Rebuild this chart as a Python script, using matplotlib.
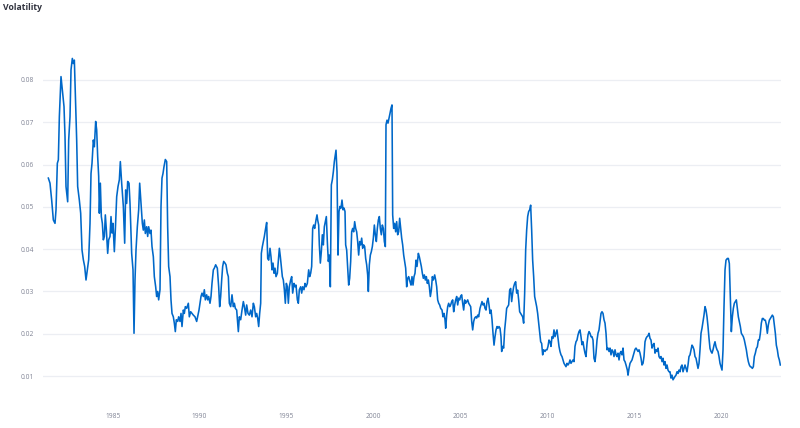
import matplotlib
matplotlib.use("Agg")
import matplotlib.pyplot as plt

title = "Volatility"

years = [
    1981.297, 1981.392, 1981.488, 1981.584, 1981.680, 1981.738, 1981.814, 1981.872, 1981.930, 1982.025,
    1982.102, 1982.198, 1982.256, 1982.313, 1982.409, 1982.467, 1982.543, 1982.601, 1982.677, 1982.735,
    1982.793, 1982.869, 1982.927, 1982.984, 1983.080, 1983.157, 1983.234, 1983.310, 1983.387, 1983.464,
    1983.541, 1983.617, 1983.694, 1983.752, 1983.809, 1983.886, 1983.943, 1984.020, 1984.078, 1984.135,
    1984.193, 1984.231, 1984.289, 1984.346, 1984.404, 1984.461, 1984.519, 1984.576, 1984.634, 1984.711,
    1984.768, 1984.845, 1984.902, 1984.960, 1985.017, 1985.094, 1985.152, 1985.229, 1985.305, 1985.382,
    1985.439, 1985.516, 1985.612, 1985.689, 1985.746, 1985.804, 1985.861, 1985.938, 1985.996, 1986.091,
    1986.168, 1986.226, 1986.283, 1986.341, 1986.417, 1986.494, 1986.552,
    1986.628, 1986.705, 1986.762, 1986.820, 1986.877, 1986.954, 1987.012, 1987.069, 1987.146, 1987.203,
    1987.261, 1987.338, 1987.395, 1987.472, 1987.529, 1987.587, 1987.644, 1987.721, 1987.779, 1987.836,
    1987.894, 1987.951, 1988.028, 1988.105, 1988.162, 1988.220, 1988.297, 1988.354, 1988.412, 1988.488,
    1988.546, 1988.603, 1988.661, 1988.738, 1988.795, 1988.872, 1988.930, 1988.987, 1989.064, 1989.121,
    1989.179, 1989.256, 1989.351, 1989.409, 1989.486, 1989.562, 1989.639, 1989.735, 1989.831, 1989.888,
    1989.965, 1990.023, 1990.080, 1990.138, 1990.215, 1990.272, 1990.330, 1990.406, 1990.464, 1990.521,
    1990.598, 1990.656, 1990.713, 1990.790, 1990.848, 1990.924, 1991.020, 1991.097, 1991.154, 1991.212,
    1991.270, 1991.327, 1991.385, 1991.461, 1991.519, 1991.596, 1991.653, 1991.711,
    1991.788, 1991.864, 1991.941, 1991.999, 1992.056, 1992.133, 1992.229, 1992.286, 1992.363, 1992.440,
    1992.517, 1992.574, 1992.651, 1992.708, 1992.785, 1992.862, 1992.939, 1993.015, 1993.092, 1993.150,
    1993.226, 1993.284, 1993.341, 1993.399, 1993.456, 1993.514, 1993.552, 1993.610, 1993.667, 1993.725,
    1993.782, 1993.859, 1993.917, 1993.974, 1994.051, 1994.108, 1994.166, 1994.224, 1994.281, 1994.339,
    1994.396, 1994.473, 1994.531, 1994.588, 1994.646, 1994.703, 1994.761, 1994.818, 1994.876, 1994.933,
    1994.991, 1995.048, 1995.106, 1995.163, 1995.240, 1995.298, 1995.355, 1995.432, 1995.490, 1995.547,
    1995.624, 1995.681, 1995.739, 1995.816, 1995.873, 1995.931, 1996.007, 1996.065, 1996.122, 1996.199,
    1996.276, 1996.333, 1996.391, 1996.448, 1996.506, 1996.564, 1996.621, 1996.698, 1996.755,
    1996.793, 1996.851, 1996.889, 1996.947, 1997.004, 1997.062, 1997.119, 1997.177, 1997.234, 1997.292,
    1997.349, 1997.407, 1997.464, 1997.522, 1997.580, 1997.637, 1997.695, 1997.752, 1997.810, 1997.848,
    1997.906, 1997.963, 1998.021, 1998.078, 1998.136, 1998.193, 1998.251, 1998.308, 1998.366, 1998.404,
    1998.462, 1998.519, 1998.577, 1998.634, 1998.692, 1998.750, 1998.807, 1998.865, 1998.922, 1998.980,
    1999.037, 1999.095, 1999.152, 1999.210, 1999.267, 1999.325, 1999.382, 1999.440, 1999.498, 1999.555,
    1999.613, 1999.670, 1999.709, 1999.766, 1999.824, 1999.881, 1999.939, 1999.996, 2000.054, 2000.111,
    2000.169, 2000.226, 2000.284, 2000.341, 2000.399, 2000.456, 2000.514, 2000.572, 2000.629, 2000.687,
    2000.725, 2000.783, 2000.840, 2000.898, 2000.955, 2001.013, 2001.070, 2001.109, 2001.166, 2001.224,
    2001.281, 2001.339, 2001.396, 2001.454, 2001.511, 2001.569, 2001.627, 2001.684, 2001.742, 2001.799,
    2001.857, 2001.914, 2001.972, 2002.029, 2002.106,
    2002.164, 2002.221, 2002.279, 2002.337, 2002.394, 2002.452, 2002.509, 2002.586, 2002.643, 2002.701,
    2002.758, 2002.816, 2002.874, 2002.931, 2002.989, 2003.046, 2003.104, 2003.161, 2003.219, 2003.276,
    2003.334, 2003.391, 2003.449, 2003.526, 2003.583, 2003.641, 2003.698, 2003.756, 2003.813, 2003.871,
    2003.948, 2004.005, 2004.063, 2004.120, 2004.159, 2004.216, 2004.274, 2004.331, 2004.389, 2004.446,
    2004.504, 2004.561, 2004.619, 2004.677, 2004.734, 2004.792, 2004.849, 2004.907, 2004.964, 2005.022,
    2005.079, 2005.137, 2005.194, 2005.252, 2005.309, 2005.367, 2005.425, 2005.482, 2005.540, 2005.597,
    2005.655, 2005.712, 2005.770, 2005.827, 2005.885, 2005.942, 2006.000, 2006.057, 2006.134, 2006.192,
    2006.249, 2006.307, 2006.364, 2006.422, 2006.479, 2006.537, 2006.595, 2006.652, 2006.710, 2006.767,
    2006.825, 2006.882, 2006.940, 2006.997, 2007.055, 2007.112, 2007.170, 2007.227, 2007.285,
    2007.341, 2007.380, 2007.437, 2007.495, 2007.552, 2007.610, 2007.667, 2007.725, 2007.782, 2007.840,
    2007.897, 2007.955, 2008.013, 2008.070, 2008.128, 2008.185, 2008.243, 2008.300, 2008.358, 2008.415,
    2008.473, 2008.530, 2008.588, 2008.645, 2008.703, 2008.761, 2008.818, 2008.876, 2008.933, 2008.991,
    2009.048, 2009.106, 2009.163, 2009.221, 2009.278, 2009.336, 2009.394, 2009.451, 2009.509, 2009.566,
    2009.624, 2009.681, 2009.739, 2009.796, 2009.873, 2009.931, 2009.988, 2010.046, 2010.103, 2010.161,
    2010.218, 2010.276, 2010.333, 2010.391, 2010.448, 2010.506, 2010.564, 2010.621, 2010.679, 2010.736,
    2010.794, 2010.851, 2010.909, 2010.966, 2011.024, 2011.081, 2011.139, 2011.196, 2011.254, 2011.312,
    2011.369, 2011.427, 2011.484, 2011.542, 2011.599, 2011.657, 2011.714, 2011.772, 2011.829, 2011.887,
    2011.944, 2012.002, 2012.059, 2012.117, 2012.175, 2012.232, 2012.290, 2012.347, 2012.405, 2012.462,
    2012.520, 2012.577, 2012.635, 2012.692, 2012.750,
    2012.808, 2012.866, 2012.923, 2012.981, 2013.038, 2013.096, 2013.153, 2013.211, 2013.269, 2013.326,
    2013.384, 2013.441, 2013.499, 2013.556, 2013.614, 2013.671, 2013.729, 2013.786, 2013.844, 2013.902,
    2013.959, 2014.017, 2014.074, 2014.132, 2014.189, 2014.247, 2014.304, 2014.362, 2014.419, 2014.477,
    2014.535, 2014.611, 2014.650, 2014.707, 2014.765, 2014.822, 2014.880, 2014.937, 2014.995, 2015.052,
    2015.110, 2015.167, 2015.225, 2015.282, 2015.340, 2015.398, 2015.455, 2015.513, 2015.570, 2015.628,
    2015.685, 2015.743, 2015.800, 2015.858, 2015.915, 2015.973, 2016.030, 2016.088, 2016.146, 2016.203,
    2016.261, 2016.318, 2016.376, 2016.433, 2016.491, 2016.548, 2016.606, 2016.663, 2016.721, 2016.779,
    2016.836, 2016.894, 2016.951, 2017.009, 2017.066, 2017.124, 2017.181, 2017.239, 2017.296, 2017.354,
    2017.411, 2017.469, 2017.527, 2017.584, 2017.642, 2017.699, 2017.757, 2017.814, 2017.872, 2017.929,
    2017.987, 2018.044, 2018.102, 2018.159, 2018.217,
    2018.274, 2018.332, 2018.389, 2018.447, 2018.504, 2018.562, 2018.620, 2018.677, 2018.735, 2018.792,
    2018.850, 2018.907, 2018.965, 2019.022, 2019.080, 2019.137, 2019.195, 2019.252, 2019.310, 2019.368,
    2019.425, 2019.483, 2019.540, 2019.598, 2019.655, 2019.713, 2019.770, 2019.828, 2019.885, 2019.943,
    2020.000, 2020.058, 2020.116, 2020.173, 2020.231, 2020.288, 2020.365, 2020.422, 2020.480, 2020.537,
    2020.595, 2020.653, 2020.710, 2020.768, 2020.825, 2020.883, 2020.940, 2020.998, 2021.055, 2021.113,
    2021.171, 2021.228, 2021.286, 2021.343, 2021.401, 2021.458, 2021.516, 2021.573, 2021.631, 2021.688,
    2021.746, 2021.803, 2021.861, 2021.918, 2021.976, 2022.034, 2022.091, 2022.149, 2022.206, 2022.264,
    2022.321, 2022.379, 2022.436, 2022.494, 2022.551, 2022.609, 2022.666, 2022.724, 2022.782, 2022.839,
    2022.897, 2022.954, 2023.012, 2023.069, 2023.127, 2023.184, 2023.242, 2023.299, 2023.357, 2023.414,
]

volatility = [
    0.0568, 0.0556, 0.0516, 0.0469, 0.0461, 0.0493, 0.0603, 0.0611, 0.0713, 0.0808,
    0.0776, 0.0737, 0.0666, 0.0548, 0.0512, 0.0658, 0.0713, 0.0824, 0.0851, 0.0839,
    0.0847, 0.0737, 0.0658, 0.0548, 0.0516, 0.0485, 0.0398, 0.0375, 0.0359, 0.0327,
    0.0351, 0.0375, 0.0461, 0.0579, 0.0603, 0.0658, 0.0642, 0.0702, 0.0682, 0.0619,
    0.0572, 0.0485, 0.0556, 0.0477, 0.0461, 0.0422, 0.0430, 0.0481, 0.0446, 0.0390,
    0.0422, 0.0430, 0.0477, 0.0438, 0.0461, 0.0394, 0.0446, 0.0524, 0.0548, 0.0564,
    0.0607, 0.0556, 0.0501, 0.0414, 0.0540, 0.0508, 0.0560, 0.0556, 0.0508, 0.0390,
    0.0351, 0.0201, 0.0327, 0.0398, 0.0453, 0.0493, 0.0556,
    0.0508, 0.0461, 0.0445, 0.0469, 0.0437, 0.0453, 0.0430, 0.0453, 0.0437, 0.0445,
    0.0406, 0.0382, 0.0335, 0.0311, 0.0288, 0.0300, 0.0280, 0.0304, 0.0501, 0.0568,
    0.0579, 0.0595, 0.0612, 0.0607, 0.0453, 0.0359, 0.0335, 0.0280, 0.0248, 0.0240,
    0.0225, 0.0205, 0.0233, 0.0229, 0.0240, 0.0229, 0.0248, 0.0217, 0.0256, 0.0248,
    0.0264, 0.0260, 0.0272, 0.0240, 0.0252, 0.0248, 0.0244, 0.0240, 0.0229, 0.0240,
    0.0256, 0.0272, 0.0288, 0.0296, 0.0288, 0.0304, 0.0280, 0.0292, 0.0280, 0.0288,
    0.0272, 0.0288, 0.0319, 0.0351, 0.0355, 0.0363, 0.0355, 0.0311, 0.0264, 0.0288,
    0.0327, 0.0359, 0.0371, 0.0367, 0.0363, 0.0343, 0.0335, 0.0272,
    0.0264, 0.0292, 0.0264, 0.0272, 0.0260, 0.0256, 0.0205, 0.0240, 0.0233, 0.0256,
    0.0276, 0.0264, 0.0244, 0.0268, 0.0248, 0.0244, 0.0256, 0.0240, 0.0272, 0.0264,
    0.0240, 0.0248, 0.0237, 0.0217, 0.0248, 0.0272, 0.0390, 0.0406, 0.0418, 0.0430,
    0.0445, 0.0463, 0.0378, 0.0374, 0.0402, 0.0382, 0.0351, 0.0367, 0.0343, 0.0355,
    0.0335, 0.0343, 0.0374, 0.0402, 0.0382, 0.0359, 0.0335, 0.0327, 0.0304, 0.0272,
    0.0319, 0.0311, 0.0272, 0.0311, 0.0327, 0.0335, 0.0296, 0.0319, 0.0311, 0.0315,
    0.0280, 0.0272, 0.0304, 0.0311, 0.0296, 0.0311, 0.0304, 0.0319, 0.0311, 0.0319,
    0.0351, 0.0335, 0.0343, 0.0359, 0.0449, 0.0457, 0.0449, 0.0469, 0.0481,
    0.0469, 0.0457, 0.0410, 0.0367, 0.0394, 0.0434, 0.0410, 0.0453, 0.0465, 0.0477,
    0.0418, 0.0371, 0.0386, 0.0311, 0.0552, 0.0564, 0.0583, 0.0607, 0.0623, 0.0634,
    0.0583, 0.0386, 0.0489, 0.0501, 0.0497, 0.0516, 0.0493, 0.0497, 0.0489, 0.0410,
    0.0398, 0.0355, 0.0315, 0.0331, 0.0371, 0.0441, 0.0449, 0.0441, 0.0465, 0.0449,
    0.0441, 0.0418, 0.0386, 0.0418, 0.0410, 0.0426, 0.0402, 0.0410, 0.0406, 0.0378,
    0.0363, 0.0339, 0.0300, 0.0363, 0.0386, 0.0394, 0.0406, 0.0426, 0.0457, 0.0434,
    0.0418, 0.0449, 0.0469, 0.0477, 0.0449, 0.0434, 0.0457, 0.0449, 0.0418, 0.0406,
    0.0694, 0.0705, 0.0698, 0.0709, 0.0721, 0.0733, 0.0741, 0.0481, 0.0449, 0.0461,
    0.0441, 0.0465, 0.0434, 0.0441, 0.0473, 0.0449, 0.0426, 0.0410, 0.0386, 0.0371,
    0.0355, 0.0311, 0.0331, 0.0335, 0.0323,
    0.0315, 0.0335, 0.0315, 0.0335, 0.0343, 0.0374, 0.0359, 0.0390, 0.0382, 0.0370,
    0.0359, 0.0343, 0.0331, 0.0339, 0.0327, 0.0335, 0.0319, 0.0327, 0.0311, 0.0288,
    0.0303, 0.0335, 0.0327, 0.0339, 0.0327, 0.0311, 0.0280, 0.0272, 0.0268, 0.0260,
    0.0256, 0.0240, 0.0248, 0.0233, 0.0213, 0.0244, 0.0264, 0.0272, 0.0264, 0.0268,
    0.0276, 0.0280, 0.0252, 0.0268, 0.0280, 0.0288, 0.0268, 0.0284, 0.0280, 0.0289,
    0.0292, 0.0272, 0.0256, 0.0280, 0.0272, 0.0276, 0.0280, 0.0272, 0.0268, 0.0264,
    0.0229, 0.0209, 0.0229, 0.0237, 0.0240, 0.0237, 0.0244, 0.0240, 0.0260, 0.0268,
    0.0276, 0.0268, 0.0272, 0.0260, 0.0256, 0.0276, 0.0284, 0.0268, 0.0248, 0.0256,
    0.0233, 0.0201, 0.0173, 0.0193, 0.0209, 0.0217, 0.0213, 0.0217, 0.0213,
    0.0193, 0.0158, 0.0170, 0.0166, 0.0209, 0.0233, 0.0260, 0.0264, 0.0268, 0.0303,
    0.0307, 0.0276, 0.0296, 0.0311, 0.0319, 0.0323, 0.0296, 0.0303, 0.0280, 0.0252,
    0.0248, 0.0244, 0.0240, 0.0225, 0.0296, 0.0398, 0.0445, 0.0477, 0.0489, 0.0493,
    0.0504, 0.0445, 0.0374, 0.0335, 0.0288, 0.0276, 0.0264, 0.0248, 0.0225, 0.0201,
    0.0181, 0.0177, 0.0150, 0.0162, 0.0158, 0.0162, 0.0162, 0.0170, 0.0185, 0.0181,
    0.0170, 0.0193, 0.0189, 0.0209, 0.0193, 0.0201, 0.0209, 0.0189, 0.0170, 0.0158,
    0.0150, 0.0146, 0.0138, 0.0130, 0.0126, 0.0122, 0.0130, 0.0126, 0.0130, 0.0138,
    0.0130, 0.0134, 0.0138, 0.0134, 0.0170, 0.0181, 0.0185, 0.0197, 0.0205, 0.0209,
    0.0193, 0.0174, 0.0181, 0.0166, 0.0154, 0.0146, 0.0177, 0.0197, 0.0205, 0.0201,
    0.0193, 0.0193, 0.0185, 0.0142, 0.0134,
    0.0154, 0.0185, 0.0201, 0.0209, 0.0229, 0.0248, 0.0252, 0.0248, 0.0233, 0.0225,
    0.0201, 0.0162, 0.0166, 0.0158, 0.0166, 0.0150, 0.0162, 0.0158, 0.0146, 0.0162,
    0.0150, 0.0146, 0.0154, 0.0138, 0.0154, 0.0158, 0.0150, 0.0166, 0.0138, 0.0134,
    0.0126, 0.0114, 0.0102, 0.0118, 0.0130, 0.0134, 0.0138, 0.0146, 0.0154, 0.0163,
    0.0166, 0.0162, 0.0158, 0.0162, 0.0154, 0.0142, 0.0126, 0.0130, 0.0146, 0.0181,
    0.0189, 0.0193, 0.0195, 0.0201, 0.0189, 0.0185, 0.0166, 0.0173, 0.0177, 0.0154,
    0.0162, 0.0158, 0.0166, 0.0146, 0.0142, 0.0146, 0.0134, 0.0142, 0.0126, 0.0134,
    0.0118, 0.0126, 0.0114, 0.0110, 0.0110, 0.0095, 0.0102, 0.0091, 0.0095, 0.0099,
    0.0102, 0.0110, 0.0106, 0.0114, 0.0110, 0.0122, 0.0126, 0.0110, 0.0118, 0.0126,
    0.0118, 0.0110, 0.0126, 0.0146, 0.0150,
    0.0162, 0.0173, 0.0169, 0.0162, 0.0146, 0.0142, 0.0130, 0.0118, 0.0130, 0.0162,
    0.0201, 0.0213, 0.0229, 0.0244, 0.0264, 0.0256, 0.0240, 0.0217, 0.0189, 0.0165,
    0.0158, 0.0154, 0.0162, 0.0173, 0.0181, 0.0169, 0.0162, 0.0158, 0.0146, 0.0130,
    0.0122, 0.0114, 0.0162, 0.0264, 0.0351, 0.0374, 0.0378, 0.0378, 0.0366, 0.0288,
    0.0205, 0.0240, 0.0260, 0.0272, 0.0276, 0.0280, 0.0260, 0.0240, 0.0229, 0.0217,
    0.0201, 0.0197, 0.0193, 0.0185, 0.0173, 0.0162, 0.0146, 0.0134, 0.0126, 0.0122,
    0.0121, 0.0118, 0.0122, 0.0146, 0.0154, 0.0165, 0.0169, 0.0185, 0.0185, 0.0201,
    0.0225, 0.0236, 0.0236, 0.0232, 0.0232, 0.0221, 0.0201, 0.0221, 0.0232, 0.0236,
    0.0240, 0.0244, 0.0240, 0.0221, 0.0201, 0.0173, 0.0162, 0.0146, 0.0138, 0.0126,
]

y_ticks = [0.01, 0.02, 0.03, 0.04, 0.05, 0.06, 0.07, 0.08]
y_tick_labels = ["0.01", "0.02", "0.03", "0.04", "0.05", "0.06", "0.07", "0.08"]
x_ticks = [1985, 1990, 1995, 2000, 2005, 2010, 2015, 2020]
x_tick_labels = ["1985", "1990", "1995", "2000", "2005", "2010", "2015", "2020"]

W, H = 800, 428
fig = plt.figure(figsize=(W / 100, H / 100), dpi=100)
fig.patch.set_facecolor("white")

left_px, right_px, top_px, bottom_px = 42.7, 780.7, 30, 400
ax = fig.add_axes([left_px / W, 1 - bottom_px / H, (right_px - left_px) / W, (bottom_px - top_px) / H])
ax.set_facecolor("white")

ax.plot(years, volatility, color="#0068c9", lw=1.15, solid_joinstyle="round", zorder=3)

ax.set_xlim(1980.972, 2023.435)
ax.set_ylim(0.004325, 0.09182)

ax.set_yticks(y_ticks)
ax.set_yticklabels(y_tick_labels)
ax.set_xticks(x_ticks)
ax.set_xticklabels(x_tick_labels)

for s in ax.spines.values():
    s.set_visible(False)

ax.yaxis.grid(True, color="#eceef3", lw=0.9)
ax.xaxis.grid(False)
ax.set_axisbelow(True)

ax.tick_params(axis="both", length=0, labelsize=4.8, labelcolor="#808495")
ax.tick_params(axis="y", pad=6.5)
ax.tick_params(axis="x", pad=9)
for lab in ax.get_xticklabels() + ax.get_yticklabels():
    lab.set_fontfamily("Open Sans")

fig.text(3 / W, 1 - 7.5 / H, title, fontsize=6.2, fontweight="bold", color="#31333f",
         ha="left", va="center", family="Open Sans")

fig.savefig("out.png", dpi=100, facecolor="white")
